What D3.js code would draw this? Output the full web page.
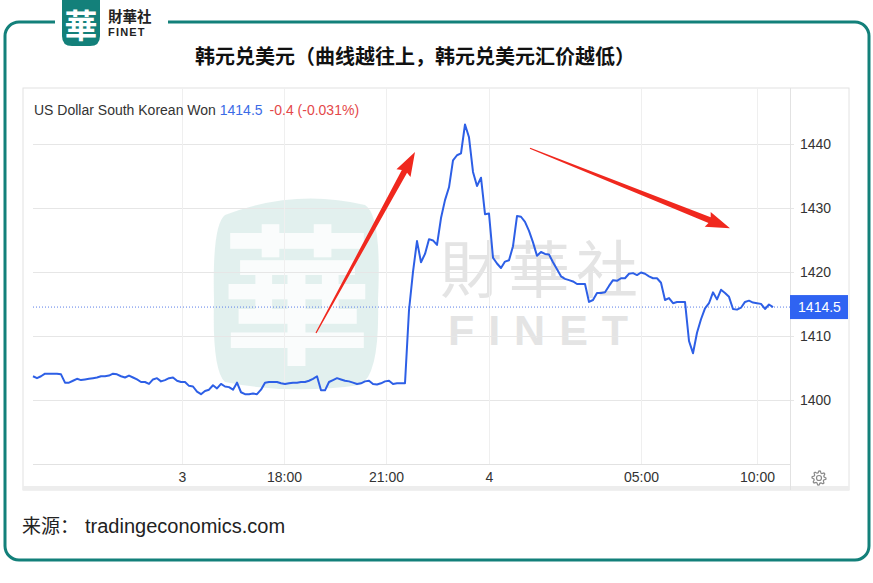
<!DOCTYPE html>
<html><head><meta charset="utf-8">
<script src="https://cdn.jsdelivr.net/npm/d3@7"></script>
<style>
html,body{margin:0;padding:0;background:#fff;}
svg{display:block;}
</style></head>
<body>
<script>
// ---------- data ----------
const title = "韩元兑美元（曲线越往上，韩元兑美元汇价越低）";
const sourceLabel = "来源：";
const sourceSite = "tradingeconomics.com";
const brandCn = "財華社";
const brandEn = "FINET";
const seriesName = "US Dollar South Korean Won";
const lastLabel = "1414.5";
const changeLabel = "-0.4 (-0.031%)";
const lastValue = 1414.5;
const yTicks = [1400, 1410, 1420, 1430, 1440];
const xTickLabels = ["3", "18:00", "21:00", "4", "05:00", "10:00"];
const xTickIndex = [37.25, 62.75, 88.25, 114, 152, 181];
const xSlots = 189.25;      // visible window, in sample slots
const yDomain = [1390, 1448.7];
const values = [
 1403.7,1403.4,1403.7,1404.1,1404.1,1404.1,1404.1,1404.0,1402.7,1402.7,
 1403.0,1403.3,1403.1,1403.2,1403.3,1403.4,1403.5,1403.7,1403.7,1403.8,
 1404.1,1404.0,1403.7,1403.5,1403.8,1403.5,1403.2,1402.8,1402.8,1402.5,
 1403.2,1403.4,1402.9,1403.1,1403.4,1403.5,1403.0,1402.8,1402.8,1402.2,
 1402.1,1401.3,1400.9,1401.4,1401.6,1402.3,1401.8,1402.5,1402.1,1402.0,
 1401.6,1402.7,1401.2,1400.9,1400.9,1401.0,1400.9,1401.6,1402.7,1402.8,
 1402.8,1402.8,1402.6,1402.5,1402.6,1402.7,1402.7,1402.8,1402.8,1403.0,
 1403.3,1403.7,1401.5,1401.5,1402.8,1403.1,1403.4,1403.2,1403.0,1402.9,
 1402.7,1402.5,1402.6,1402.9,1403.0,1402.5,1402.4,1402.6,1402.9,1403.0,
 1402.5,1402.6,1402.6,1402.6,1414.0,1420.0,1424.8,1421.5,1422.8,1425.1,
 1424.9,1424.2,1428.4,1431.2,1433.2,1437.4,1438.2,1438.5,1443.0,1441.0,
 1435.6,1433.4,1434.7,1429.0,1429.1,1422.2,1421.3,1420.6,1421.6,1421.8,
 1424.0,1428.7,1428.6,1427.8,1426.4,1424.6,1422.5,1423.1,1422.8,1422.7,
 1421.5,1420.4,1419.3,1418.9,1418.7,1418.5,1418.1,1418.1,1418.1,1415.3,
 1415.6,1416.7,1416.7,1416.8,1417.8,1418.7,1418.6,1419.0,1419.0,1419.7,
 1419.8,1419.5,1419.9,1419.7,1419.3,1419.0,1419.0,1418.3,1415.6,1415.9,
 1415.1,1415.3,1415.3,1415.3,1409.2,1407.3,1410.5,1412.6,1414.3,1415.1,
 1416.8,1415.7,1417.2,1416.7,1416.1,1414.2,1414.1,1414.4,1415.3,1415.5,
 1415.2,1415.1,1415.0,1414.2,1414.9,1414.5
];
// annotation arrows (data units: [slot, value] tail -> tip)
const arrows = [
  [[70.75, 1410.45], [95.5, 1438.7]],
  [[124.25, 1439.3], [174.25, 1426.8]]
];

// ---------- layout ----------
const W = 873, H = 583;
const teal = "#13807a";
const cjk = "'Noto Sans CJK SC','Noto Sans',sans-serif";
const lat = "'Liberation Sans',Arial,sans-serif";
const latCjk = "'Liberation Sans','Noto Sans CJK SC',sans-serif";
const panel = {x: 23, y: 88, r: 849, b: 490};
const plot = {l: 33, r: 790, t: 88, b: 464};

const svg = d3.select("body").append("svg").attr("width", W).attr("height", H);
svg.append("rect").attr("width", W).attr("height", H).attr("fill", "#fff");

// outer teal frame with gap for logo
const fr = {l: 5, t: 22, r: 869, b: 560, rad: 14};
const fp = d3.path();
fp.moveTo(55, fr.t);
fp.lineTo(fr.l + fr.rad, fr.t);
fp.arcTo(fr.l, fr.t, fr.l, fr.t + fr.rad, fr.rad);
fp.lineTo(fr.l, fr.b - fr.rad);
fp.arcTo(fr.l, fr.b, fr.l + fr.rad, fr.b, fr.rad);
fp.lineTo(fr.r - fr.rad, fr.b);
fp.arcTo(fr.r, fr.b, fr.r, fr.b - fr.rad, fr.rad);
fp.lineTo(fr.r, fr.t + fr.rad);
fp.arcTo(fr.r, fr.t, fr.r - fr.rad, fr.t, fr.rad);
fp.lineTo(168, fr.t);
svg.append("path").attr("d", fp.toString()).attr("fill", "none")
  .attr("stroke", teal).attr("stroke-width", 3);

// top logo
svg.append("path").attr("d", "M62,0 L100,0 L100,36 Q100,46 90,46 L72,46 Q62,46 62,36 Z").attr("fill", teal);
svg.append("text").attr("x", 81).attr("y", 38).attr("text-anchor", "middle")
  .attr("font-family", cjk).attr("font-weight", 700).attr("font-size", 33).attr("fill", "#fff").text("華");
svg.append("text").attr("x", 108).attr("y", 22).attr("fill", "#222").attr("font-weight", 700)
  .attr("font-family", latCjk).attr("font-size", 14.5).text(brandCn);
svg.append("text").attr("x", 108).attr("y", 36).attr("fill", "#222").attr("font-weight", 700)
  .attr("font-family", lat).attr("font-size", 11).attr("letter-spacing", 1.2).text(brandEn);

// title
svg.append("text").attr("x", 415).attr("y", 64).attr("text-anchor", "middle")
  .attr("font-family", cjk).attr("font-weight", 700).attr("font-size", 20).attr("fill", "#111").text(title);

// chart panel
svg.append("rect").attr("x", panel.x).attr("y", panel.y).attr("width", panel.r - panel.x)
  .attr("height", panel.b - panel.y).attr("fill", "#fff").attr("stroke", "#e2e2e2");
svg.append("rect").attr("x", panel.x).attr("y", panel.b - 4).attr("width", panel.r - panel.x)
  .attr("height", 4).attr("fill", "#ededed");

const x = d3.scaleLinear().domain([0, xSlots]).range([plot.l, plot.r]);
const y = d3.scaleLinear().domain(yDomain).range([plot.b, plot.t]);

// watermark
const wm = svg.append("g");
wm.append("path").attr("d", "M225,215 Q295,188 365,205 Q382,215 378,300 Q380,375 360,385 Q290,395 225,382 Q212,370 214,300 Q212,225 225,215 Z")
  .attr("fill", "#d6e9e7").attr("opacity", 0.7);
wm.append("text").attr("x", 297).attr("y", 352).attr("text-anchor", "middle").attr("font-family", cjk)
  .attr("font-weight", 700).attr("font-size", 150).attr("fill", "#fff").attr("opacity", 0.85).text("華");
wm.append("text").attr("x", 542).attr("y", 293).attr("text-anchor", "middle").attr("fill", "#e4e4e4")
  .attr("font-family", latCjk).attr("font-size", 62).attr("letter-spacing", 6).text(brandCn);
wm.append("text").attr("x", 545).attr("y", 345).attr("text-anchor", "middle").attr("fill", "#e4e4e4")
  .attr("font-family", lat).attr("font-weight", 700).attr("font-size", 43).attr("letter-spacing", 14).text(brandEn);

// grid
const grid = svg.append("g");
grid.selectAll("line.h").data(yTicks).join("line").attr("class", "h")
  .attr("x1", plot.l).attr("x2", plot.r + 4).attr("y1", d => Math.round(y(d)) + 0.5).attr("y2", d => Math.round(y(d)) + 0.5)
  .attr("stroke", "#e6e6e6");
grid.selectAll("line.v").data(xTickIndex).join("line").attr("class", "v")
  .attr("x1", d => Math.round(x(d)) + 0.5).attr("x2", d => Math.round(x(d)) + 0.5)
  .attr("y1", panel.y).attr("y2", plot.b).attr("stroke", "#efefef");
svg.append("line").attr("x1", plot.l).attr("x2", plot.r).attr("y1", plot.b + 0.5).attr("y2", plot.b + 0.5).attr("stroke", "#e2e2e2");
svg.append("line").attr("x1", plot.r + 0.5).attr("x2", plot.r + 0.5).attr("y1", panel.y).attr("y2", panel.b).attr("stroke", "#e2e2e2");

// last-value dotted line
svg.append("line").attr("x1", plot.l).attr("x2", plot.r).attr("y1", y(lastValue)).attr("y2", y(lastValue))
  .attr("stroke", "#5b7fe8").attr("stroke-width", 1).attr("stroke-dasharray", "1,2");

// axes
const yAxis = d3.axisRight(y).tickValues(yTicks).tickFormat(d3.format("d")).tickSize(0).tickPadding(10);
const ya = svg.append("g").attr("transform", `translate(${plot.r},0)`).call(yAxis);
ya.select(".domain").remove();
ya.selectAll("text").attr("font-family", lat).attr("font-size", 14).attr("fill", "#333");

const xAxis = d3.axisBottom(x).tickValues(xTickIndex).tickFormat((d, i) => xTickLabels[i]).tickSize(0).tickPadding(8);
const xa = svg.append("g").attr("transform", `translate(0,${plot.b})`).call(xAxis);
xa.select(".domain").remove();
xa.selectAll("text").attr("font-family", lat).attr("font-size", 14).attr("fill", "#333");

// line
const line = d3.line().x((d, i) => x(i)).y(d => y(d));
svg.append("path").datum(values).attr("d", line).attr("fill", "none")
  .attr("stroke", "#2d5fe6").attr("stroke-width", 2).attr("stroke-linejoin", "round");

// last value badge
svg.append("rect").attr("x", plot.r).attr("y", y(lastValue) - 12).attr("width", panel.r - plot.r - 1)
  .attr("height", 24).attr("fill", "#2f63f2");
svg.append("text").attr("x", (plot.r + panel.r) / 2).attr("y", y(lastValue) + 5).attr("text-anchor", "middle")
  .attr("font-family", lat).attr("font-size", 14).attr("fill", "#fff").text(lastLabel);

// legend
const lg = svg.append("text").attr("x", 34).attr("y", 115).attr("font-family", lat).attr("font-size", 14);
lg.append("tspan").attr("fill", "#333").text(seriesName + " ");
lg.append("tspan").attr("fill", "#3b6be6").text(lastLabel);
lg.append("tspan").attr("fill", "#e4484a").attr("dx", 7).text(changeLabel);

// gear icon
(function () {
  const cx = 819, cy = 478, ro = 7, ri = 5.2, n = 8, g = d3.path();
  for (let k = 0; k < n * 4; k++) {
    const a = (k / (n * 4)) * 2 * Math.PI;
    const r = (k % 4 === 0 || k % 4 === 1) ? ro : ri;
    const px = cx + r * Math.cos(a), py = cy + r * Math.sin(a);
    if (k === 0) g.moveTo(px, py); else g.lineTo(px, py);
  }
  g.closePath();
  svg.append("path").attr("d", g.toString()).attr("fill", "none").attr("stroke", "#888").attr("stroke-width", 1.2);
  svg.append("circle").attr("cx", cx).attr("cy", cy).attr("r", 2.5).attr("fill", "none").attr("stroke", "#888").attr("stroke-width", 1.2);
})();

// red arrows
arrows.forEach(([a, b]) => {
  const x0 = x(a[0]), y0 = y(a[1]), x1 = x(b[0]), y1 = y(b[1]);
  const dx = x1 - x0, dy = y1 - y0, L = Math.hypot(dx, dy);
  const ux = dx / L, uy = dy / L, nx = -uy, ny = ux;
  const hl = 22, hw = 8, sw = 3, tw = 0.6;
  const bx = x1 - ux * hl, by = y1 - uy * hl;
  const pts = [
    [x0 + nx * tw, y0 + ny * tw],
    [bx + nx * sw, by + ny * sw],
    [bx + nx * hw - ux * 2, by + ny * hw - uy * 2],
    [x1, y1],
    [bx - nx * hw - ux * 2, by - ny * hw - uy * 2],
    [bx - nx * sw, by - ny * sw],
    [x0 - nx * tw, y0 - ny * tw]
  ];
  svg.append("path").attr("d", "M" + pts.map(p => p.join(",")).join("L") + "Z").attr("fill", "#f0281e");
});

// source
const st = svg.append("text").attr("x", 22).attr("y", 533).attr("fill", "#222");
st.append("tspan").attr("font-family", cjk).attr("font-size", 19).text(sourceLabel);
st.append("tspan").attr("font-family", lat).attr("font-size", 20).attr("dx", 6).text(sourceSite);
</script>
</body></html>
